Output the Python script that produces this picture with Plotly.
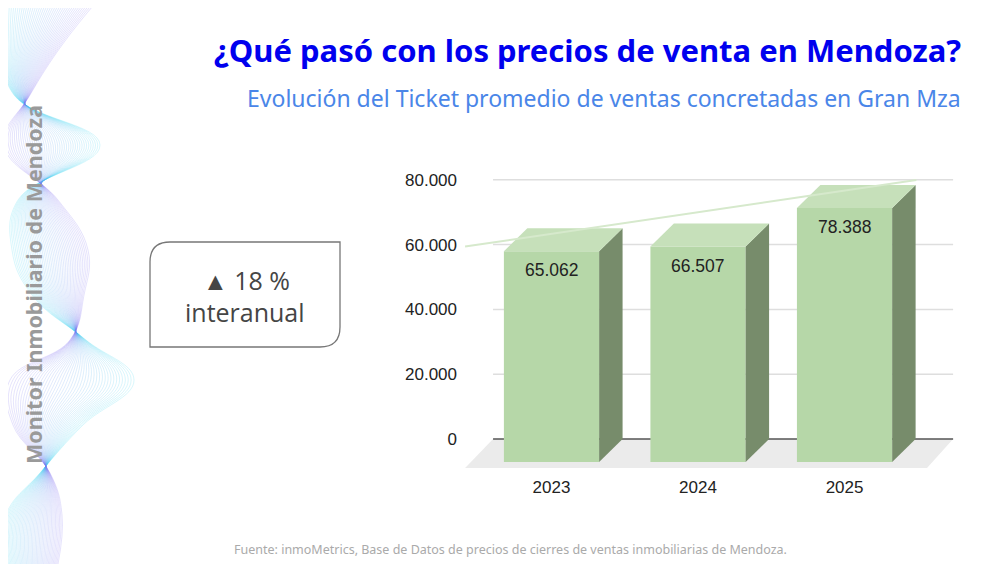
import numpy as np
import plotly.graph_objects as go

# ---------------- data ----------------
years = ["2023", "2024", "2025"]
ticket = [65062, 66507, 78388]
y_tick_vals = [0, 20000, 40000, 60000, 80000]
y_tick_text = ["0", "20.000", "40.000", "60.000", "80.000"]

title = "¿Qué pasó con los precios de venta en Mendoza?"
subtitle = "Evolución del Ticket promedio de ventas concretadas en Gran Mza"
source = "Fuente: inmoMetrics, Base de Datos de precios de cierres de ventas inmobiliarias de Mendoza."
side_label = "Monitor Inmobiliario de Mendoza"

# ---------------- style constants ----------------
PAGE_W, PAGE_H = 1000, 564
OFF = 8                      # browser body margin
W, H = PAGE_W - OFF, PAGE_H - OFF
BAR_W = 0.65
DX = 0.16          # depth offset (category units)
DY = 7100          # depth offset (value units)
FRONT = "#b6d7a8"
SIDE = "#778c6b"
TOP = "#c6e0ba"
FONT = "Liberation Sans"

xs = list(range(len(years)))

def fmt(v):
    return f"{v:,}".replace(",", ".")

fig = go.Figure()

# front faces (bars)
fig.add_trace(go.Bar(
    x=xs, y=ticket, base=[-DY] * len(xs), width=BAR_W,
    marker=dict(color=FRONT, line=dict(width=0)),
    hoverinfo="skip", showlegend=False, xaxis="x", yaxis="y"))

# side and top faces
for c, v in zip(xs, ticket):
    r = c + BAR_W / 2
    l = c - BAR_W / 2
    fig.add_trace(go.Scatter(
        x=[r, r + DX, r + DX, r, r], y=[-DY, 0, v, v - DY, -DY],
        mode="lines", fill="toself", fillcolor=SIDE, line=dict(width=0),
        hoverinfo="skip", showlegend=False, xaxis="x", yaxis="y"))
    fig.add_trace(go.Scatter(
        x=[l, l + DX, r + DX, r, l], y=[v - DY, v, v, v - DY, v - DY],
        mode="lines", fill="toself", fillcolor=TOP, line=dict(width=0),
        hoverinfo="skip", showlegend=False, xaxis="x", yaxis="y"))

# linear trend line
slope, intercept = np.polyfit(xs, ticket, 1)
tx = np.array([-0.59, 2.49])
fig.add_trace(go.Scatter(
    x=tx, y=intercept + slope * tx, mode="lines",
    line=dict(color="#d6e9cc", width=2), hoverinfo="skip",
    showlegend=False, xaxis="x", yaxis="y"))

# floor and gridlines (below traces)
fig.add_shape(type="path", xref="x", yref="y", layer="below",
              path="M -0.59,-8950 L -0.399,0 L 2.741,0 L 2.563,-8950 Z",
              fillcolor="#ebebeb", line=dict(width=0))
for v in y_tick_vals:
    fig.add_shape(type="line", xref="x", yref="y", layer="below",
                  x0=-0.399, x1=2.741, y0=v, y1=v,
                  line=dict(color="#555555" if v == 0 else "#dedede", width=1.5))

# data labels
for c, v in zip(xs, ticket):
    fig.add_annotation(x=c, y=v - DY, xref="x", yref="y", text=fmt(v),
                       showarrow=False, yanchor="top", yshift=-7,
                       font=dict(family=FONT, size=17.5, color="#222222"))

# ---------------- decorative ribbon (ornament, page-pixel overlay) ----------------
cy = [0, 45, 95, 145, 200, 250, 295, 340, 380, 425, 473, 515, 564]
ca = [48, 32, 22, 52, 38, 50, 58, 78, 72, 48, 45, 34, 32]
cb = [50, 30, 8, -48, 20, 38, 26, -8, -62, -35, 5, 28, 26]
n_lines = 44
for k in range(n_lines):
    s = -1 + 2 * k / (n_lines - 1)
    t = k / (n_lines - 1)
    col = f"rgba({int(60 + 70 * t)},{int(215 - 105 * t)},240,0.33)"
    fig.add_trace(go.Scatter(
        x=[a + b * s for a, b in zip(ca, cb)], y=cy, mode="lines",
        line=dict(color=col, width=0.6, shape="spline", smoothing=1.2),
        hoverinfo="skip", showlegend=False, xaxis="x2", yaxis="y2"))

# ---------------- text / box in page-pixel overlay ----------------
fig.add_shape(type="path", xref="x2", yref="y2",
              path="M 170,242 L 340,242 L 340,327 Q 340,347 320,347 L 150,347 L 150,262 Q 150,242 170,242 Z",
              line=dict(color="#777777", width=1.3), fillcolor="rgba(0,0,0,0)")

growth = round((ticket[-1] / ticket[-2] - 1) * 100)
fig.add_annotation(x=246, y=280, xref="x2", yref="y2", text=f"▲ {growth} %",
                   showarrow=False, font=dict(family="Open Sans", size=25, color="#454545"))
fig.add_annotation(x=245, y=312, xref="x2", yref="y2", text="interanual",
                   showarrow=False, font=dict(family="Open Sans", size=25, color="#454545"))

fig.add_annotation(x=963, y=50, xref="x2", yref="y2", text=f"<b>{title}</b>",
                   showarrow=False, xanchor="right",
                   font=dict(family="Noto Sans", size=31, color="#0000ee"))
fig.add_annotation(x=963, y=98, xref="x2", yref="y2", text=subtitle,
                   showarrow=False, xanchor="right",
                   font=dict(family="Noto Sans", size=23, color="#4a86e8"))
fig.add_annotation(x=510, y=549, xref="x2", yref="y2", text=source,
                   showarrow=False,
                   font=dict(family="Noto Sans", size=12.5, color="#aaaaaa"))
fig.add_annotation(x=33, y=285, xref="x2", yref="y2", text=f"<b>{side_label}</b>",
                   showarrow=False, textangle=-90,
                   font=dict(family="Noto Sans", size=21.5, color="#9a9a9a"))

# ---------------- layout ----------------
def fx(px):
    return (px - OFF) / W

def fy(py):
    return 1 - (py - OFF) / H

fig.update_layout(
    width=W, height=H,
    margin=dict(l=0, r=0, t=0, b=0),
    paper_bgcolor="white", plot_bgcolor="rgba(0,0,0,0)",
    showlegend=False,
    xaxis=dict(domain=[fx(462), fx(960)], range=[-0.611, 2.788],
               tickvals=xs, ticktext=years, showgrid=False, zeroline=False,
               showline=False, ticks="", tickfont=dict(family=FONT, size=17, color="#222222"),
               fixedrange=True),
    yaxis=dict(domain=[fy(475), fy(170)], range=[-11111, 83025],
               tickvals=y_tick_vals, ticktext=y_tick_text, showgrid=False,
               zeroline=False, showline=False, ticks="", ticklabelstandoff=4,
               tickfont=dict(family=FONT, size=17, color="#222222"), fixedrange=True),
    xaxis2=dict(domain=[0, 1], range=[OFF, PAGE_W], visible=False, anchor="y2", fixedrange=True),
    yaxis2=dict(domain=[0, 1], range=[PAGE_H, OFF], visible=False, anchor="x2", fixedrange=True),
)

fig.write_html("out.html")
